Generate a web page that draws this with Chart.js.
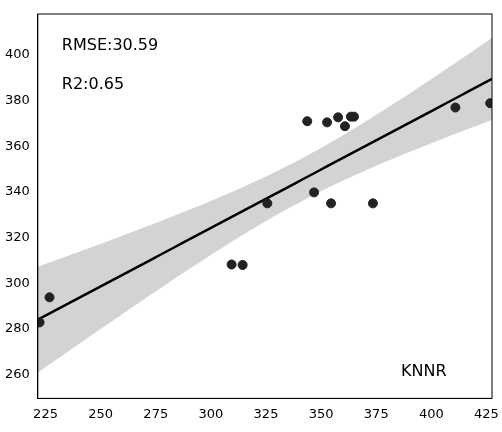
<!DOCTYPE html>
<html>
<head>
<meta charset="utf-8">
<script src="https://cdn.jsdelivr.net/npm/chart.js@4/dist/chart.umd.min.js"></script>
<style>
  html, body { margin: 0; padding: 0; background: #fff; }
  #wrap { width: 502px; height: 432px; }
</style>
</head>
<body>
<div id="wrap"><canvas id="chart"></canvas></div>
<script>
const xValues = [222.3, 226.8, 309.4, 314.4, 325.6, 343.7, 346.8, 352.7, 354.5, 357.7, 360.8, 363.5, 364.9, 373.5, 410.9, 426.7];
const yValues = [282.8, 293.8, 308.2, 308.0, 335.0, 371.0, 339.8, 370.5, 335.0, 372.7, 368.8, 373.0, 373.0, 335.0, 377.0, 378.9];
const xTicks = [225, 250, 275, 300, 325, 350, 375, 400, 425];
const yTicks = [260, 280, 300, 320, 340, 360, 380, 400];
const xMin = 221.5, xMax = 427.5;
const yMin = 249.5, yMax = 418;

// least squares fit and 95% confidence band
const n = xValues.length;
const mx = xValues.reduce((a, b) => a + b, 0) / n;
const my = yValues.reduce((a, b) => a + b, 0) / n;
let sxx = 0, sxy = 0;
xValues.forEach((x, i) => { sxx += (x - mx) ** 2; sxy += (x - mx) * (yValues[i] - my); });
const slope = sxy / sxx;
const icpt = my - slope * mx;
let sse = 0;
xValues.forEach((x, i) => { sse += (yValues[i] - (icpt + slope * x)) ** 2; });
const s = Math.sqrt(sse / (n - 2));
const tval = 2.145;

const bandUpper = [], bandLower = [], fitLine = [];
for (let k = 0; k <= 60; k++) {
    const x = xMin + (xMax - xMin) * k / 60;
    const yh = icpt + slope * x;
    const se = s * Math.sqrt(1 / n + (x - mx) ** 2 / sxx);
    bandUpper.push({ x: x, y: yh + tval * se });
    bandLower.push({ x: x, y: yh - tval * se });
    fitLine.push({ x: x, y: yh });
}

const labelPlugin = {
    id: 'labels',
    afterDatasetsDraw(chart) {
        const { ctx, chartArea } = chart;
        ctx.save();
        ctx.fillStyle = '#000';
        ctx.font = '16px "DejaVu Sans"';
        ctx.textBaseline = 'middle';
        ctx.fillText('RMSE:30.59', chartArea.left + 24, 46);
        ctx.fillText('R2:0.65', chartArea.left + 24, 85);
        ctx.fillText('KNNR', 401, 372);
        ctx.restore();
    }
};

new Chart(document.getElementById('chart'), {
    type: 'scatter',
    data: {
        datasets: [
            { type: 'line', data: bandUpper, borderWidth: 0, pointRadius: 0, backgroundColor: 'rgba(200,200,200,0.8)', fill: '+1', order: 3 },
            { type: 'line', data: bandLower, borderWidth: 0, pointRadius: 0, fill: false, order: 3 },
            { type: 'line', data: fitLine, borderColor: '#000', borderWidth: 2.5, pointRadius: 0, fill: false, order: 2 },
            { data: xValues.map((x, i) => ({ x: x, y: yValues[i] })), backgroundColor: '#222', borderColor: '#222', pointRadius: 4.5, order: 1 }
        ]
    },
    options: {
        responsive: true,
        maintainAspectRatio: false,
        animation: false,
        layout: { padding: { top: 14, right: 9, bottom: 7, left: 2 } },
        plugins: { legend: { display: false }, tooltip: { enabled: false } },
        scales: {
            x: {
                type: 'linear', min: xMin, max: xMax,
                afterBuildTicks: axis => { axis.ticks = xTicks.map(v => ({ value: v })); },
                grid: { display: false, drawTicks: true, tickLength: 5 },
                border: { color: '#000', width: 1 },
                ticks: { color: '#000', font: { size: 13, family: 'DejaVu Sans' }, maxRotation: 0 }
            },
            y: {
                min: yMin, max: yMax,
                afterBuildTicks: axis => { axis.ticks = yTicks.map(v => ({ value: v })); },
                grid: { display: false, tickLength: 5 },
                border: { color: '#000', width: 1 },
                ticks: { color: '#000', font: { size: 13, family: 'DejaVu Sans' } }
            }
        }
    },
    plugins: [labelPlugin, {
        id: 'box',
        afterDraw(chart) {
            const { ctx, chartArea: a } = chart;
            ctx.save();
            ctx.strokeStyle = '#000';
            ctx.lineWidth = 1;
            ctx.strokeRect(a.left, a.top, a.right - a.left, a.bottom - a.top);
            ctx.restore();
        }
    }]
});
</script>
</body>
</html>
